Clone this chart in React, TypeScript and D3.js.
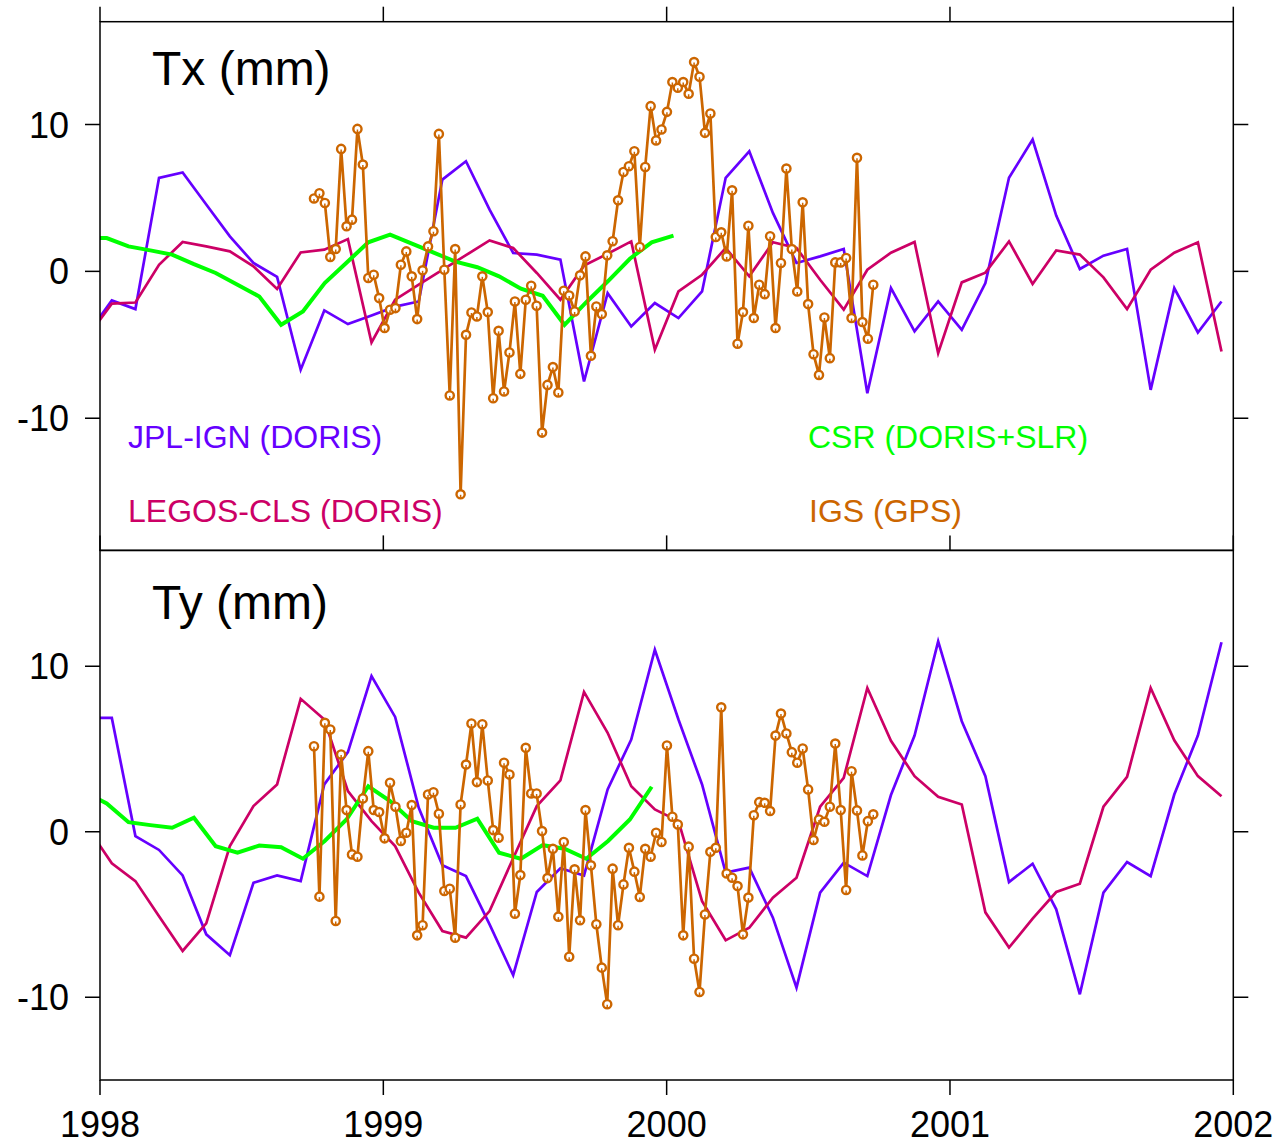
import React from 'react';
import * as d3 from 'd3';

// ---------- DATA ----------
// monthly solutions (JPL-IGN, LEGOS-CLS): Dec 1997 .. Dec 2001 (month mid-points)
const monthTimes: number[] = d3.range(-1, 48).map((k) => 1998 + (k + 0.5) / 12);
// CSR 4-weekly-ish solutions
const csrTimes: number[] = d3.range(-1, 27).map((j) => 1998.02365 + 0.076942 * j);
// IGS weekly solutions
const igsTimes: number[] = d3.range(0, 104).map((i) => 1998.7553 + (i * 7) / 365.25);

const jplTx = [-4.2, -1.98, -2.57, 6.37, 6.73, 4.55, 2.38, 0.57, -0.38, -6.7, -2.66, -3.59, -3.0, -2.4, -2.05, 6.25, 7.5, 4.2, 1.25, 1.14, 0.8, -7.5, -1.48, -3.75, -2.16, -3.18, -1.37, 6.37, 8.18, 3.98, 0.57, 1.02, 1.52, -8.3, -1.14, -4.09, -2.05, -3.98, -0.8, 6.37, 8.98, 3.8, 0.16, 1.07, 1.52, -8.07, -1.14, -4.16, -2.05];
const legosTx = [-4.4, -2.2, -2.12, 0.45, 2.0, 1.7, 1.36, 0.34, -1.2, 1.29, 1.48, 2.2, -4.84, -1.93, -0.9, 0.1, 1.1, 2.11, 1.59, -0.11, -1.93, 0.39, 1.2, 2.04, -5.34, -1.37, -0.23, 1.59, -0.34, 1.98, 1.59, -0.57, -2.61, 0.11, 1.27, 2.0, -5.57, -0.75, -0.09, 2.04, -0.86, 1.43, 1.14, -0.41, -2.57, 0.11, 1.27, 1.98, -5.46];
const csrTx = [2.25, 2.27, 1.7, 1.43, 1.14, 0.49, -0.11, -0.91, -1.71, -3.64, -2.73, -0.8, 0.59, 1.98, 2.5, 1.89, 1.27, 0.66, 0.28, -0.34, -1.18, -1.66, -3.64, -2.1, -0.66, 0.86, 1.98, 2.43];
const igsTx = [
  4.96, 5.32, 4.66, 0.98, 1.52, 8.34, 3.07, 3.52, 9.7, 7.27,
  -0.45, -0.23, -1.82, -3.86, -2.61, -2.5, 0.45, 1.36, -0.34, -3.25,
  0.07, 1.7, 2.73, 9.36, 0.11, -8.45, 1.52, -15.18, -4.32, -2.8,
  -3.07, -0.34, -2.77, -8.64, -4.05, -8.18, -5.52, -2.05, -6.98, -1.93,
  -0.98, -2.34, -10.98, -7.73, -6.52, -8.25, -1.32, -1.64, -2.73, -0.27,
  1.02, -5.75, -2.39, -2.91, 1.09, 2.05, 4.84, 6.77, 7.16, 8.18,
  1.66, 7.11, 11.25, 8.91, 9.66, 10.86, 12.89, 12.5, 12.89, 12.09,
  14.25, 13.25, 9.43, 10.75, 2.34, 2.66, 1.02, 5.52, -4.93, -2.77,
  3.11, -3.18, -0.91, -1.55, 2.39, -3.86, 0.57, 7.0, 1.52, -1.37,
  4.7, -2.23, -5.64, -7.05, -3.14, -5.91, 0.61, 0.61, 0.91, -3.18,
  7.73, -3.45, -4.59, -0.91,
];

const jplTy = [6.88, 6.88, -0.26, -1.1, -2.64, -6.2, -7.46, -3.08, -2.64, -2.98, 2.86, 4.81, 9.4, 6.94, 1.45, -2.03, -2.68, -5.6, -8.67, -3.64, -2.21, -2.64, 2.56, 5.57, 11.0, 6.78, 2.86, -2.47, -2.17, -5.19, -9.42, -3.68, -1.87, -2.68, 2.22, 5.81, 11.5, 6.68, 3.36, -3.04, -1.93, -4.69, -9.82, -3.68, -1.83, -2.68, 2.25, 5.81, 11.45];
const legosTy = [0.2, -1.91, -2.98, -5.1, -7.2, -5.53, -0.87, 1.55, 2.86, 8.03, 6.78, 2.45, 0.64, -0.87, -3.68, -6.0, -6.4, -4.79, -1.6, 1.55, 3.1, 8.45, 5.98, 2.75, 1.35, 0.64, -4.19, -6.56, -5.8, -3.98, -2.78, 1.51, 3.26, 8.69, 5.5, 3.36, 2.11, 1.65, -4.87, -7.0, -5.25, -3.64, -3.14, 1.51, 3.32, 8.69, 5.53, 3.36, 2.15];
const csrTy = [2.4, 1.71, 0.58, 0.4, 0.24, 0.85, -0.87, -1.27, -0.83, -0.93, -1.63, -0.56, 0.74, 2.75, 1.85, 0.64, 0.24, 0.24, 0.79, -1.27, -1.63, -0.81, -1.03, -1.63, -0.56, 0.74, 2.72];
const igsTy = [
  5.17, -3.92, 6.58, 6.18, -5.39, 4.67, 1.31, -1.37, -1.51, 2.01,
  4.87, 1.31, 1.19, -0.4, 2.96, 1.51, -0.56, -0.06, 1.61, -6.26,
  -5.65, 2.25, 2.39, 1.09, -3.58, -3.44, -6.4, 1.65, 4.06, 6.54,
  3.0, 6.5, 3.1, 0.1, -0.36, 4.17, 3.46, -4.95, -2.62, 5.07,
  2.31, 2.31, 0.04, -2.8, -1.03, -5.13, -0.62, -7.55, -2.27, -5.35,
  1.31, -2.03, -5.59, -8.21, -10.42, -2.23, -5.65, -3.18, -0.97, -2.41,
  -3.94, -1.03, -1.51, -0.06, -0.62, 5.21, 0.91, 0.44, -6.26, -0.9,
  -7.67, -9.68, -5.0, -1.21, -0.97, 7.52, -2.52, -2.78, -3.28, -6.2,
  -3.98, 1.0, 1.79, 1.75, 1.25, 5.81, 7.14, 5.94, 4.81, 4.17,
  5.03, 2.56, -0.5, 0.74, 0.6, 1.51, 5.33, 1.31, -3.52, 3.66,
  1.29, -1.43, 0.64, 1.05,
];

const yearTicks = [1998, 1999, 2000, 2001, 2002];
const yTicks = [-10, 0, 10];
const panelTitles = ['Tx (mm)', 'Ty (mm)'];
const seriesNames = ['JPL-IGN (DORIS)', 'LEGOS-CLS (DORIS)', 'CSR (DORIS+SLR)', 'IGS (GPS)'];
const seriesColors = ['#6600ff', '#cc0066', '#00ff00', '#cc6600'];

// ---------- LAYOUT ----------
const W = 1279;
const H = 1145;
const X0 = 100;
const X1 = 1233.3;
const FONT = '"Liberation Sans", Arial, Helvetica, sans-serif';

type Pt = { t: number; v: number };
const zip = (ts: number[], vs: number[]): Pt[] => vs.map((v, i) => ({ t: ts[i], v }));

const x = d3.scaleLinear().domain([1998, 2002]).range([X0, X1]);

const panels = [
  {
    id: 'tx',
    y: d3.scaleLinear().domain([-19, 17]).range([550.4, 21.7]),
    top: 21.7,
    bottom: 550.4,
    title: panelTitles[0],
    titleY: 85,
    jpl: jplTx,
    legos: legosTx,
    csr: csrTx,
    igs: igsTx,
  },
  {
    id: 'ty',
    y: d3.scaleLinear().domain([-15, 17]).range([1080, 550.4]),
    top: 550.4,
    bottom: 1080,
    title: panelTitles[1],
    titleY: 619,
    jpl: jplTy,
    legos: legosTy,
    csr: csrTy,
    igs: igsTy,
  },
];

export default function App() {
  return (
    <svg
      width={W}
      height={H}
      viewBox={`0 0 ${W} ${H}`}
      style={{ position: 'absolute', left: 0, top: 0, background: '#fff' }}
      fontFamily={FONT}
    >
      <rect x={0} y={0} width={W} height={H} fill="#fff" />
      <defs>
        {panels.map((p) => (
          <clipPath id={`clip-${p.id}`} key={p.id}>
            <rect x={X0} y={p.top} width={X1 - X0} height={p.bottom - p.top} />
          </clipPath>
        ))}
      </defs>
      {panels.map((p, pi) => {
        const line = d3
          .line<Pt>()
          .x((d) => x(d.t))
          .y((d) => p.y(d.v));
        const igsPts = zip(igsTimes, p.igs);
        return (
          <g key={p.id}>
            <g clipPath={`url(#clip-${p.id})`}>
              <path d={line(zip(monthTimes, p.jpl)) || ''} fill="none" stroke={seriesColors[0]} strokeWidth={2.7} strokeLinejoin="miter" />
              <path d={line(zip(monthTimes, p.legos)) || ''} fill="none" stroke={seriesColors[1]} strokeWidth={2.7} strokeLinejoin="miter" />
              <path d={line(zip(csrTimes, p.csr)) || ''} fill="none" stroke={seriesColors[2]} strokeWidth={4} strokeLinejoin="miter" />
              <path d={line(igsPts) || ''} fill="none" stroke={seriesColors[3]} strokeWidth={2.7} strokeLinejoin="miter" />
              {igsPts.map((d, i) => (
                <g key={i}>
                  <circle cx={x(d.t)} cy={p.y(d.v)} r={4.1} fill="#fff" stroke={seriesColors[3]} strokeWidth={2.4} />
                  <line x1={x(d.t)} x2={x(d.t)} y1={p.y(d.v) + 0.5} y2={p.y(d.v) + 3.5} stroke={seriesColors[3]} strokeWidth={1.5} />
                </g>
              ))}
            </g>
            {/* frame */}
            <rect x={X0} y={p.top} width={X1 - X0} height={p.bottom - p.top} fill="none" stroke="#000" strokeWidth={1.5} />
            {/* x ticks: outward at top of panel */}
            {yearTicks.map((yr) => (
              <line key={`xt-${yr}`} x1={x(yr)} x2={x(yr)} y1={p.top - 15} y2={p.top} stroke="#000" strokeWidth={1.5} />
            ))}
            {pi === 1 &&
              yearTicks.map((yr) => (
                <line key={`xb-${yr}`} x1={x(yr)} x2={x(yr)} y1={p.bottom} y2={p.bottom + 15} stroke="#000" strokeWidth={1.5} />
              ))}
            {/* y ticks */}
            {yTicks.map((v) => (
              <g key={`yt-${v}`}>
                <line x1={X0 - 15} x2={X0} y1={p.y(v)} y2={p.y(v)} stroke="#000" strokeWidth={1.5} />
                <line x1={X1} x2={X1 + 15} y1={p.y(v)} y2={p.y(v)} stroke="#000" strokeWidth={1.5} />
                <text x={69} y={p.y(v) + 13} fontSize={36} textAnchor="end" fill="#000">
                  {v < 0 ? `-${Math.abs(v)}` : `${v}`}
                </text>
              </g>
            ))}
            <text x={152} y={p.titleY} fontSize={48} fill="#000">
              {p.title}
            </text>
          </g>
        );
      })}
      {/* legend labels in top panel */}
      <text x={128} y={448} fontSize={32} fill={seriesColors[0]}>{seriesNames[0]}</text>
      <text x={128} y={522} fontSize={32} fill={seriesColors[1]}>{seriesNames[1]}</text>
      <text x={808} y={448} fontSize={32} fill={seriesColors[2]}>{seriesNames[2]}</text>
      <text x={809} y={522} fontSize={32} fill={seriesColors[3]}>{seriesNames[3]}</text>
      {/* year labels */}
      {yearTicks.map((yr) => (
        <text key={`yl-${yr}`} x={x(yr)} y={1137} fontSize={36} textAnchor="middle" fill="#000">
          {yr}
        </text>
      ))}
    </svg>
  );
}
